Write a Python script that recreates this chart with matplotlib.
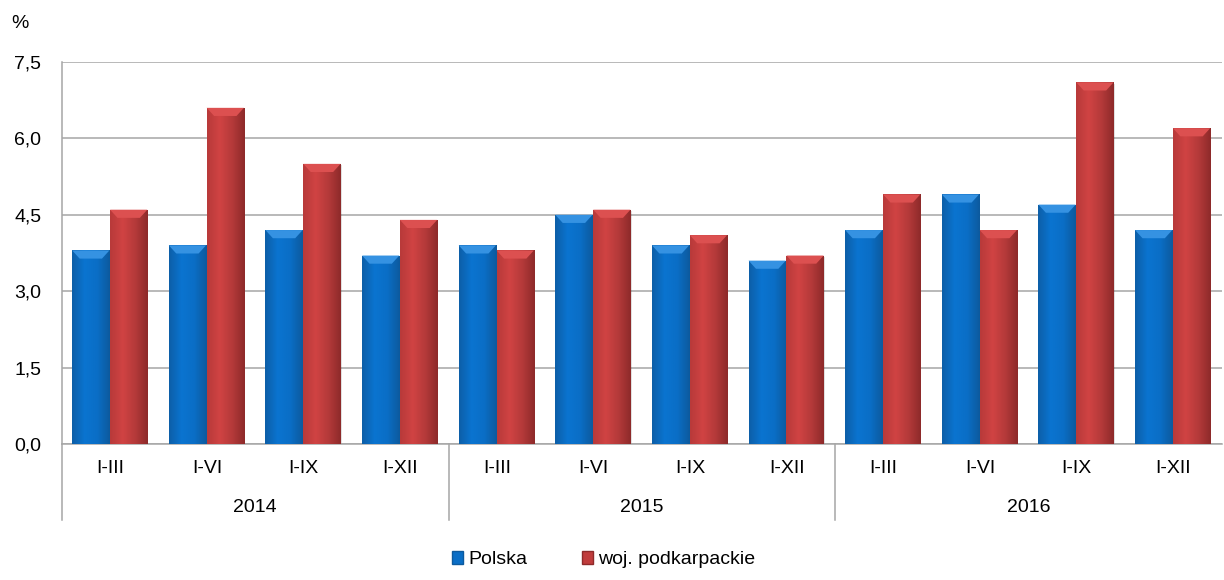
import numpy as np
import matplotlib.pyplot as plt
from matplotlib.patches import Patch, Polygon
from matplotlib.colors import LinearSegmentedColormap

plt.rcParams['font.family'] = ['Liberation Sans', 'DejaVu Sans']

lata = ['2014', '2015', '2016']
okresy = ['I-III', 'I-VI', 'I-IX', 'I-XII']
polska = [3.8, 3.9, 4.2, 3.7, 3.9, 4.5, 3.9, 3.6, 4.2, 4.9, 4.7, 4.2]
podkarpackie = [4.6, 6.6, 5.5, 4.4, 3.8, 4.6, 4.1, 3.7, 4.9, 4.2, 7.1, 6.2]
yticks = [0.0, 1.5, 3.0, 4.5, 6.0, 7.5]

fig = plt.figure(figsize=(12.24, 5.8), dpi=100)
ax = fig.add_axes([0.0507, 0.2345, 0.9473, 0.6586])

cm_blue = LinearSegmentedColormap.from_list('b', ['#0d5fa8', '#0a74d0', '#0a6ec6', '#0d5a9e'])
cm_red = LinearSegmentedColormap.from_list('r', ['#b83a3a', '#d04343', '#b53a3a', '#8e2a2a'])
grad = np.linspace(0, 1, 64).reshape(1, -1)

fs = 14
w = 0.385
n = len(polska)
for i in range(n):
    for x0, h, cmap, top in [(i + 0.105, polska[i], cm_blue, '#3592e2'),
                             (i + 0.497, podkarpackie[i], cm_red, '#dc5050')]:
        # cien
        ax.bar(x0 + 0.012, h, width=w, bottom=-0.03, align='edge',
               color='#000000', alpha=0.12, zorder=2, linewidth=0)
        bar = ax.bar(x0, h, width=w, align='edge', color='none',
                     linewidth=0, zorder=3)[0]
        im = ax.imshow(grad, cmap=cmap, aspect='auto', zorder=3,
                       extent=[x0, x0 + w, 0, h], interpolation='bilinear')
        im.set_clip_path(bar)
        d = 0.16
        bevel = Polygon([(x0, h), (x0 + w, h), (x0 + w * 0.8, h - d),
                         (x0 + w * 0.2, h - d)], closed=True,
                        facecolor=top, edgecolor='none', zorder=4)
        ax.add_patch(bevel)

ax.set_xlim(0, n)
ax.set_ylim(0, 7.5)
ax.set_yticks(yticks)
ax.set_yticklabels([f'{v:.1f}'.replace('.', ',') for v in yticks], fontsize=fs)
ax.set_xticks([])
ax.tick_params(axis='y', length=0, pad=15)
ax.yaxis.grid(True, color='#a6a6a6', linewidth=1.1)
ax.set_axisbelow(True)
for s in ['top', 'right']:
    ax.spines[s].set_visible(False)
ax.spines['left'].set_color('#a6a6a6')
ax.spines['bottom'].set_color('#a6a6a6')
ax.spines['left'].set_linewidth(1.1)
ax.spines['bottom'].set_linewidth(1.1)

trans = ax.get_xaxis_transform()
for i in range(n):
    ax.text(i + 0.5, -0.063, okresy[i % 4], transform=trans,
            ha='center', va='center', fontsize=fs)
for j, rok in enumerate(lata):
    ax.text(j * 4 + 2, -0.165, rok, transform=trans,
            ha='center', va='center', fontsize=fs)
for xs in [0, 4, 8]:
    ax.plot([xs, xs], [0, -0.2], transform=trans, color='#a6a6a6',
            linewidth=1.1, clip_on=False)

fig.text(0.009, 0.975, '%', fontsize=fs, ha='left', va='top')

handles = [Patch(facecolor='#0a6ec6', edgecolor='#0d5a9e', label='Polska'),
           Patch(facecolor='#c03c3c', edgecolor='#8e2a2a', label='woj. podkarpackie')]
fig.legend(handles=handles, loc='lower center', bbox_to_anchor=(0.493, -0.01),
           ncol=2, frameon=False, fontsize=fs, handlelength=0.6,
           handleheight=0.6, handletextpad=0.25, columnspacing=2.8)

fig.savefig('out.png', dpi=100)
